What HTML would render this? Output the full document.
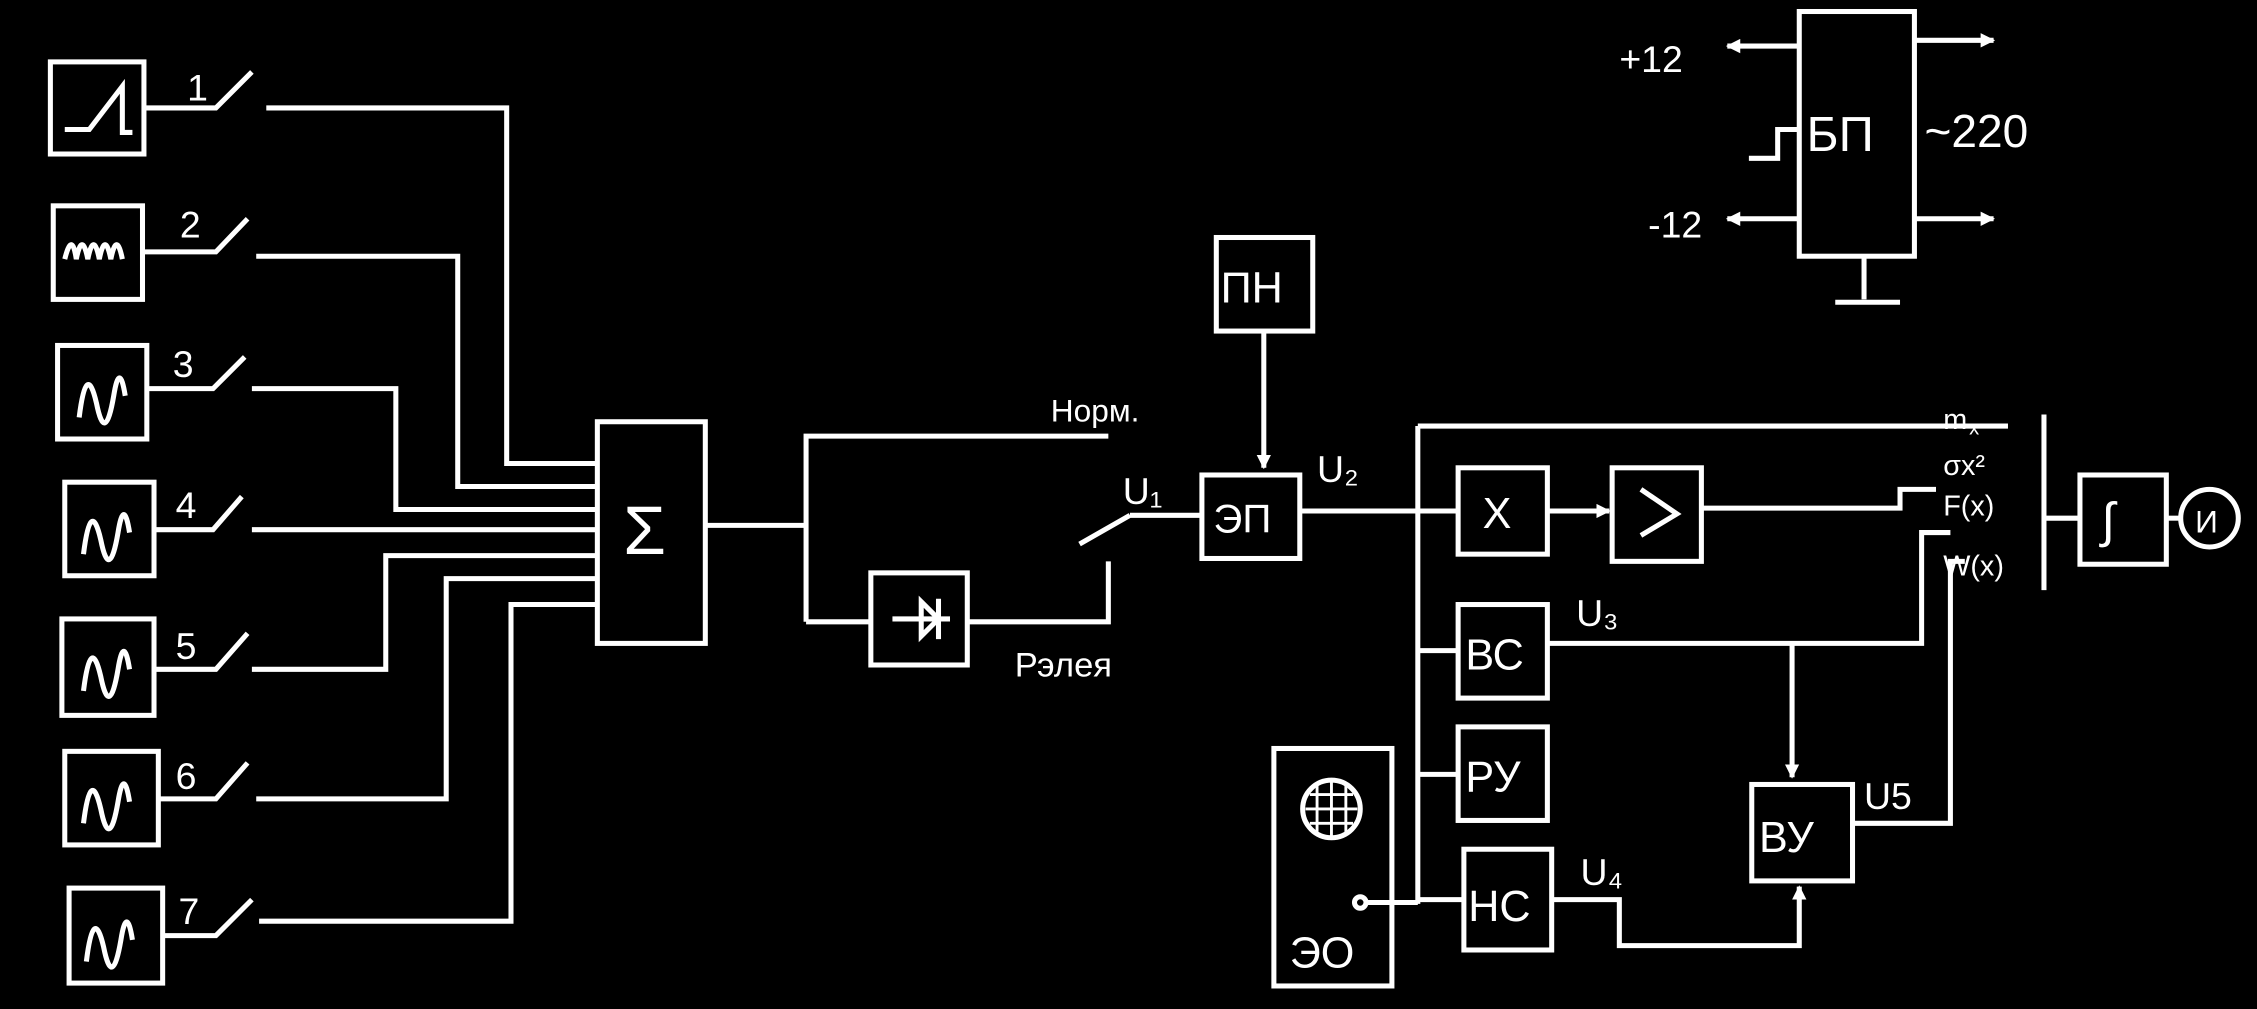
<!DOCTYPE html>
<html><head><meta charset="utf-8"><style>
html,body{margin:0;padding:0;background:#000;width:2257px;height:1009px;overflow:hidden}
svg{display:block}
text{font-family:"Liberation Sans","DejaVu Sans",sans-serif;fill:#fff}
</style></head><body>
<svg width="2257" height="1009" viewBox="0 0 1568 701" preserveAspectRatio="none">
<defs><marker id="a" markerWidth="10" markerHeight="10" refX="9" refY="5" orient="auto" markerUnits="userSpaceOnUse"><path d="M0,0 L10,5 L0,10 z" fill="#fff"/></marker></defs>
<g stroke="#fff" stroke-width="3.5" fill="none">
<rect x="35" y="43" width="65" height="64"/>
<rect x="37" y="143" width="62" height="65"/>
<rect x="40" y="240" width="62" height="65"/>
<rect x="45" y="335" width="62" height="65"/>
<rect x="43" y="430" width="64" height="67"/>
<rect x="45" y="522" width="65" height="65"/>
<rect x="48" y="617" width="65" height="66"/>
<path d="M45,90 L62,90 L85,60 L85,92 L92,92"/>
<path d="M45,180 q5,-20 8,0 q4,-20 8,0 q4,-20 8,0 q4,-20 8,0 q4,-20 8,0"/>
<path d="M55,290 q5,-40 12,-10 q6,30 12,-5 q4,-25 8,0"/>
<path d="M58,385 q5,-40 12,-10 q6,30 12,-5 q4,-25 8,0"/>
<path d="M58,480 q5,-40 12,-10 q6,30 12,-5 q4,-25 8,0"/>
<path d="M58,572 q5,-40 12,-10 q6,30 12,-5 q4,-25 8,0"/>
<path d="M60,668 q5,-40 12,-10 q6,30 12,-5 q4,-25 8,0"/>
<path d="M100,75 H150 L175,50"/>
<path d="M99,175 H150 L172,152"/>
<path d="M102,270 H148 L170,248"/>
<path d="M107,368 H148 L168,345"/>
<path d="M107,465 H150 L172,440"/>
<path d="M110,555 H150 L172,530"/>
<path d="M113,650 H150 L175,625"/>
<path d="M185,75 H352 V322 H415"/>
<path d="M178,178 H318 V338 H415"/>
<path d="M175,270 H275 V354 H415"/>
<path d="M175,368 H415"/>
<path d="M175,465 H268 V386 H415"/>
<path d="M178,555 H310 V402 H415"/>
<path d="M180,640 H355 V420 H415"/>
<rect x="415" y="293" width="75" height="154"/>
<path d="M490,365 H560"/>
<path d="M560,432 V303 H770"/>
<path d="M560,432 H605"/>
<rect x="605" y="398" width="67" height="64"/>
<path d="M620,430 H660 M640,418 L652,430 L640,442 z M652,416 V444"/>
<path d="M672,432 H770 V390"/>
<path d="M750,378 L785,358 M785,358 H835"/>
<rect x="835" y="330" width="68" height="58"/>
<rect x="845" y="165" width="67" height="65"/>
<path d="M878,230 V325" marker-end="url(#a)"/>
<path d="M903,355 H1013"/>
<rect x="1013" y="325" width="62" height="60"/>
<path d="M1075,355 H1118" marker-end="url(#a)"/>
<rect x="1120" y="325" width="62" height="65"/>
<path d="M1140,340 L1165,357 L1140,372"/>
<path d="M1182,353 H1320 V340 H1345"/>
<path d="M985,296 H1395" />
<path d="M985,296 V628"/>
<path d="M985,452 H1013"/><rect x="1013" y="420" width="62" height="65"/>
<path d="M985,538 H1013"/><rect x="1013" y="505" width="62" height="65"/>
<path d="M985,625 H1017"/><rect x="1017" y="590" width="61" height="70"/>
<path d="M1075,447 H1335 V370 H1355"/>
<path d="M1245,447 V540" marker-end="url(#a)"/>
<rect x="1217" y="545" width="70" height="67"/>
<path d="M1078,625 H1125 V657 H1250 V616" marker-end="url(#a)"/>
<path d="M1287,572 H1355 V390 H1365"/>
<path d="M1420,288 V410"/>
<path d="M1420,360 H1445"/>
<rect x="1445" y="330" width="60" height="62"/>
<path d="M1505,360 H1515"/>
<circle cx="1535" cy="360" r="20"/>
<rect x="885" y="520" width="82" height="165"/>
<circle cx="925" cy="562" r="20"/>
<path d="M910,552 H940 M907,562 H943 M910,572 H940 M915,545 V579 M925,542 V582 M935,545 V579" stroke-width="2"/>
<circle cx="945" cy="627" r="4"/>
<path d="M949,627 H985"/>
<rect x="1250" y="8" width="80" height="170"/>
<path d="M1250,32 H1200" marker-end="url(#a)"/>
<path d="M1250,152 H1200" marker-end="url(#a)"/>
<path d="M1330,28 H1385" marker-end="url(#a)"/>
<path d="M1330,152 H1385" marker-end="url(#a)"/>
<path d="M1250,90 H1235 V110 H1215"/>
<path d="M1295,178 V208 M1275,210 H1320"/>
</g>
<g font-size="26">
<text x="130" y="70">1</text><text x="125" y="165">2</text><text x="120" y="262">3</text>
<text x="122" y="360">4</text><text x="122" y="458">5</text><text x="122" y="548">6</text><text x="124" y="642">7</text>
<text x="433" y="385" font-size="48">Σ</text>
<text x="730" y="293" font-size="22">Норм.</text>
<text x="780" y="350">U₁</text>
<text x="705" y="470" font-size="24">Рэлея</text>
<text x="848" y="210" font-size="30">ПН</text>
<text x="843" y="370" font-size="28">ЭП</text>
<text x="915" y="335">U₂</text>
<text x="1030" y="367" font-size="30">X</text>
<text x="1018" y="465" font-size="30">ВС</text>
<text x="1018" y="550" font-size="30">РУ</text>
<text x="1020" y="640" font-size="30">НС</text>
<text x="1095" y="435">U₃</text>
<text x="1098" y="615">U₄</text>
<text x="1222" y="592" font-size="30">ВУ</text>
<text x="1295" y="562">U5</text>
<text x="896" y="672" font-size="30">ЭО</text>
<text x="1460" y="373" font-size="34">∫</text>
<text x="1525" y="370" font-size="22">И</text>
<text x="1350" y="298" font-size="20">m</text><text x="1368" y="302" font-size="14">x</text>
<text x="1350" y="330" font-size="20">σx²</text>
<text x="1350" y="358" font-size="20">F(x)</text>
<text x="1350" y="400" font-size="20">W(x)</text>
<text x="1255" y="105" font-size="34">БП</text>
<text x="1337" y="102" font-size="32">~220</text>
<text x="1125" y="50" font-size="26">+12</text>
<text x="1145" y="165" font-size="26">-12</text>
</g>
</svg>
</body></html>
